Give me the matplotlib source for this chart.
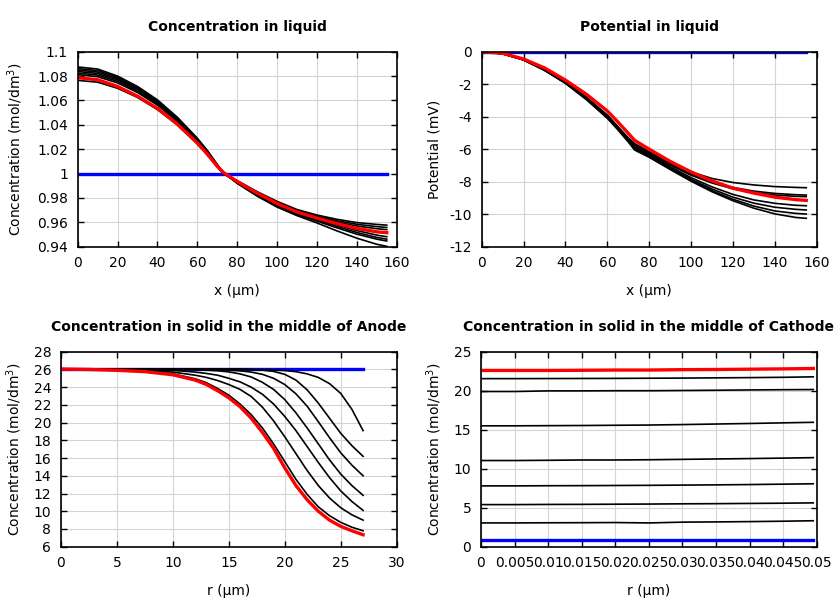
import matplotlib
matplotlib.use('Agg')
import matplotlib.pyplot as plt
from matplotlib.ticker import FuncFormatter, MultipleLocator

plt.rcParams['font.family'] = 'DejaVu Sans'
plt.rcParams['axes.unicode_minus'] = False

# liquid phase, x positions (um)
x_liq = [0, 10, 20, 30, 40, 50, 60, 65, 70, 73, 80, 90, 100, 110, 120, 130, 140, 150, 155]

conc_liq_init = [1.0] * len(x_liq)
conc_liq_steps = [
    [1.0875, 1.0858, 1.0800, 1.0715, 1.0605, 1.0462, 1.0290, 1.0190, 1.0075, 1.0010, 0.9920, 0.9815, 0.9725, 0.9655, 0.9595, 0.9530, 0.9470, 0.9420, 0.9403],
    [1.0862, 1.0845, 1.0790, 1.0705, 1.0597, 1.0455, 1.0285, 1.0186, 1.0072, 1.0008, 0.9922, 0.9820, 0.9732, 0.9664, 0.9610, 0.9555, 0.9503, 0.9462, 0.9447],
    [1.0850, 1.0833, 1.0779, 1.0696, 1.0589, 1.0448, 1.0279, 1.0181, 1.0069, 1.0006, 0.9924, 0.9824, 0.9737, 0.9670, 0.9618, 0.9566, 0.9517, 0.9476, 0.9462],
    [1.0838, 1.0821, 1.0768, 1.0687, 1.0580, 1.0441, 1.0273, 1.0176, 1.0066, 1.0004, 0.9926, 0.9828, 0.9742, 0.9676, 0.9626, 0.9578, 0.9533, 0.9495, 0.9482],
    [1.0825, 1.0808, 1.0756, 1.0676, 1.0571, 1.0434, 1.0268, 1.0172, 1.0063, 1.0003, 0.9930, 0.9836, 0.9754, 0.9690, 0.9643, 0.9602, 0.9570, 0.9548, 0.9540],
    [1.0812, 1.0795, 1.0744, 1.0665, 1.0562, 1.0427, 1.0263, 1.0168, 1.0060, 1.0002, 0.9934, 0.9842, 0.9762, 0.9697, 0.9651, 0.9613, 0.9584, 0.9565, 0.9558],
    [1.0765, 1.0750, 1.0700, 1.0625, 1.0525, 1.0400, 1.0245, 1.0155, 1.0055, 1.0000, 0.9942, 0.9852, 0.9772, 0.9705, 0.9660, 0.9625, 0.9598, 0.9583, 0.9577],
]
conc_liq_final = [1.0787, 1.0770, 1.0715, 1.0635, 1.0535, 1.0405, 1.0250, 1.0160, 1.0060, 1.0010, 0.9935, 0.9840, 0.9755, 0.9685, 0.9635, 0.9590, 0.9550, 0.9522, 0.9515]

pot_liq_init = [0.0] * len(x_liq)
pot_liq_steps = [
    [0, -0.12, -0.50, -1.10, -1.85, -2.80, -3.90, -4.60, -5.30, -5.65, -6.15, -6.85, -7.40, -7.80, -8.05, -8.20, -8.30, -8.35, -8.37],
    [0, -0.12, -0.50, -1.10, -1.87, -2.83, -3.94, -4.64, -5.35, -5.70, -6.20, -6.92, -7.52, -8.00, -8.35, -8.58, -8.72, -8.80, -8.82],
    [0, -0.12, -0.50, -1.11, -1.88, -2.85, -3.97, -4.68, -5.40, -5.75, -6.25, -6.98, -7.60, -8.08, -8.44, -8.67, -8.82, -8.90, -8.92],
    [0, -0.12, -0.50, -1.12, -1.90, -2.88, -4.00, -4.71, -5.44, -5.85, -6.32, -7.08, -7.75, -8.32, -8.78, -9.12, -9.33, -9.45, -9.48],
    [0, -0.12, -0.50, -1.13, -1.92, -2.90, -4.03, -4.74, -5.48, -5.90, -6.38, -7.15, -7.85, -8.45, -8.95, -9.32, -9.57, -9.70, -9.74],
    [0, -0.12, -0.50, -1.14, -1.93, -2.92, -4.06, -4.77, -5.52, -5.97, -6.44, -7.20, -7.92, -8.55, -9.08, -9.50, -9.80, -9.95, -9.99],
    [0, -0.12, -0.50, -1.15, -1.95, -2.95, -4.10, -4.80, -5.55, -6.05, -6.50, -7.25, -7.97, -8.62, -9.17, -9.63, -9.98, -10.20, -10.25],
]
pot_liq_final = [0, -0.10, -0.45, -1.00, -1.75, -2.62, -3.65, -4.32, -5.02, -5.45, -6.00, -6.75, -7.40, -7.95, -8.40, -8.70, -8.95, -9.10, -9.15]

# anode particle, r positions (um)
r_an = [0, 2.5, 5, 7.5, 10, 12, 13, 14, 15, 16, 17, 18, 19, 20, 21, 22, 23, 24, 25, 26, 27]

conc_an_init = [26.08] * len(r_an)
conc_an_steps = [
    [26.05, 26.05, 26.05, 26.05, 26.05, 26.05, 26.05, 26.04, 26.03, 26.02, 26.0, 25.98, 25.94, 25.88, 25.75, 25.5, 25.1, 24.4, 23.3, 21.5, 19.1],
    [26.05, 26.05, 26.05, 26.05, 26.05, 26.04, 26.04, 26.03, 26.02, 26.01, 25.98, 25.92, 25.78, 25.45, 24.8, 23.7, 22.2, 20.5, 18.8, 17.4, 16.2],
    [26.05, 26.05, 26.05, 26.05, 26.05, 26.03, 26.0, 25.97, 25.92, 25.84, 25.7, 25.45, 25.0, 24.3, 23.25, 21.85, 20.1, 18.3, 16.6, 15.2, 14.0],
    [26.05, 26.05, 26.05, 26.04, 26.02, 25.97, 25.92, 25.85, 25.72, 25.5, 25.15, 24.55, 23.75, 22.6, 21.1, 19.4, 17.6, 15.8, 14.2, 12.9, 11.8],
    [26.05, 26.05, 26.03, 26.0, 25.9, 25.7, 25.55, 25.35, 25.0, 24.6, 24.0, 23.2, 22.1, 20.7, 19.1, 17.3, 15.5, 13.8, 12.3, 11.1, 10.1],
    [26.05, 26.03, 25.97, 25.88, 25.7, 25.35, 25.1, 24.75, 24.3, 23.75, 22.95, 21.75, 20.2, 18.4, 16.5, 14.6, 12.9, 11.5, 10.4, 9.6, 9.0],
    [26.05, 26.0, 25.92, 25.78, 25.5, 24.95, 24.5, 23.85, 23.1, 22.1, 20.9, 19.4, 17.6, 15.6, 13.6, 11.9, 10.5, 9.5, 8.75, 8.2, 7.8],
]
conc_an_final = [26.05, 26.0, 25.9, 25.75, 25.4, 24.8, 24.3, 23.6, 22.8, 21.8, 20.5, 18.9, 17.1, 14.9, 12.9, 11.3, 10.0, 9.0, 8.3, 7.8, 7.35]

# cathode particle, r positions (um)
r_ca = [0, 0.005, 0.01, 0.015, 0.02, 0.025, 0.03, 0.035, 0.04, 0.045, 0.0495]

conc_ca_init = [0.8] * len(r_ca)
conc_ca_steps = [
    [3.05, 3.05, 3.07, 3.08, 3.10, 3.05, 3.15, 3.18, 3.22, 3.27, 3.33],
    [5.40, 5.40, 5.42, 5.43, 5.45, 5.47, 5.50, 5.52, 5.55, 5.58, 5.62],
    [7.80, 7.80, 7.82, 7.83, 7.85, 7.87, 7.90, 7.93, 7.97, 8.02, 8.07],
    [11.05, 11.05, 11.08, 11.12, 11.12, 11.15, 11.20, 11.25, 11.30, 11.36, 11.42],
    [15.50, 15.50, 15.52, 15.54, 15.57, 15.60, 15.66, 15.73, 15.80, 15.88, 15.95],
    [19.90, 19.90, 19.98, 19.98, 20.00, 20.00, 20.03, 20.06, 20.10, 20.13, 20.15],
    [21.55, 21.55, 21.56, 21.57, 21.58, 21.60, 21.62, 21.65, 21.68, 21.72, 21.78],
]
conc_ca_final = [22.6, 22.6, 22.6, 22.62, 22.65, 22.65, 22.7, 22.72, 22.76, 22.8, 22.85]


def fmt_g(v, pos):
    return '%g' % round(v, 6)


def style_axes(ax, title, xlabel, ylabel, ypad):
    ax.set_title(title, fontsize=10, fontweight='bold', pad=15)
    ax.set_xlabel(xlabel, fontsize=10, labelpad=10)
    ax.set_ylabel(ylabel, fontsize=10, labelpad=ypad)
    ax.grid(True, color='#d4d4d4', linewidth=0.8)
    ax.set_axisbelow(True)
    ax.tick_params(direction='in', top=True, right=True, length=4, width=1,
                   labelsize=10, pad=7)
    for s in ax.spines.values():
        s.set_linewidth(1.2)
    ax.yaxis.set_major_formatter(FuncFormatter(fmt_g))
    ax.xaxis.set_major_formatter(FuncFormatter(fmt_g))


def draw(ax, x, init, steps, final):
    ax.plot(x, init, color='#0000ff', lw=2.4)
    for s in steps:
        ax.plot(x, s, color='black', lw=1.2)
    ax.plot(x, final, color='#ff0000', lw=2.4)


fig = plt.figure(figsize=(8.4, 6.0), dpi=100)

ax1 = fig.add_axes([0.0925, 0.5888, 0.3798, 0.325])
draw(ax1, x_liq, conc_liq_init, conc_liq_steps, conc_liq_final)
ax1.set_xlim(0, 160)
ax1.set_ylim(0.94, 1.1)
ax1.xaxis.set_major_locator(MultipleLocator(20))
ax1.yaxis.set_major_locator(MultipleLocator(0.02))
style_axes(ax1, 'Concentration in liquid', 'x (µm)', 'Concentration (mol/dm$^3$)', 9)

ax2 = fig.add_axes([0.5735, 0.5888, 0.3988, 0.325])
draw(ax2, x_liq, pot_liq_init, pot_liq_steps, pot_liq_final)
ax2.set_xlim(0, 160)
ax2.set_ylim(-12, 0)
ax2.xaxis.set_major_locator(MultipleLocator(20))
ax2.yaxis.set_major_locator(MultipleLocator(2))
style_axes(ax2, 'Potential in liquid', 'x (µm)', 'Potential (mV)', 5.5)

ax3 = fig.add_axes([0.0726, 0.0888, 0.3996, 0.325])
draw(ax3, r_an, conc_an_init, conc_an_steps, conc_an_final)
ax3.set_xlim(0, 30)
ax3.set_ylim(6, 28)
ax3.xaxis.set_major_locator(MultipleLocator(5))
ax3.yaxis.set_major_locator(MultipleLocator(2))
style_axes(ax3, 'Concentration in solid in the middle of Anode', 'r (µm)', 'Concentration (mol/dm$^3$)', 6.5)

ax4 = fig.add_axes([0.5726, 0.0888, 0.3996, 0.325])
draw(ax4, r_ca, conc_ca_init, conc_ca_steps, conc_ca_final)
ax4.set_xlim(0, 0.05)
ax4.set_ylim(0, 25)
ax4.xaxis.set_major_locator(MultipleLocator(0.005))
ax4.yaxis.set_major_locator(MultipleLocator(5))
style_axes(ax4, 'Concentration in solid in the middle of Cathode', 'r (µm)', 'Concentration (mol/dm$^3$)', 7)

fig.savefig('out.png', dpi=100)
